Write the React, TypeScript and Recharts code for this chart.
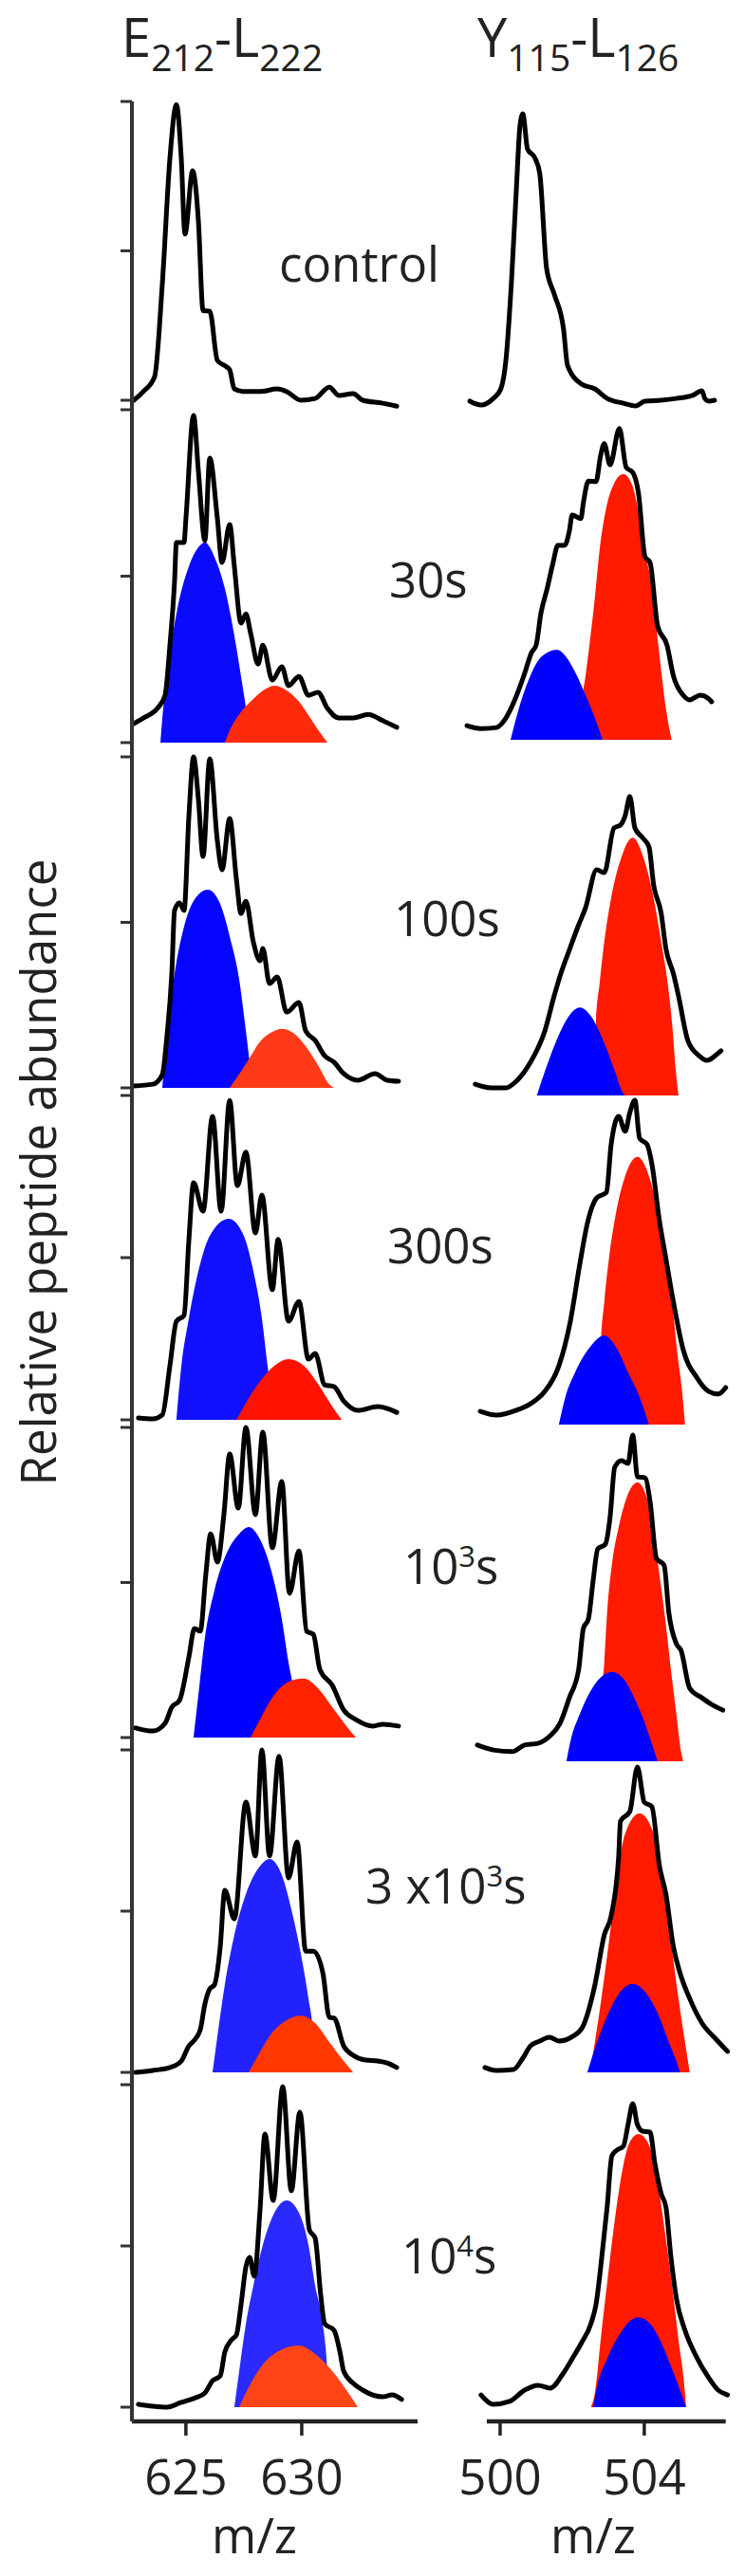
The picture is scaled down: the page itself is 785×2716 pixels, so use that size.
import React from 'react';
import { ComposedChart, Line, Area, XAxis, YAxis, ReferenceLine } from 'recharts';

type Pt = [number, number];

// ---------- E212-L222 (left column): m/z, relative abundance (%) ----------
const e212Control: Pt[] = [[622.75,0],[623.16,2.9],[623.65,7.9],[623.98,38.7],[624.31,81],[624.59,99],[624.8,81],[624.96,55.6],[625.29,76.8],[625.54,60],[625.74,30],[626.03,29.8],[626.36,13.3],[626.77,11.1],[626.89,10.2],[627.09,3.8],[627.5,2.9],[628.2,2.9],[628.94,3.8],[629.35,2.9],[629.96,0],[630.58,0.6],[631.19,4.4],[631.6,1.6],[632.22,2.2],[632.63,0],[633.49,-1],[634.1,-2]];

const e212T30: Pt[] = [[622.75,5.7],[623.16,7.4],[623.77,10.3],[624.1,14.2],[624.31,29.3],[624.51,48.4],[624.59,60.1],[624.92,60.1],[625.0,67.2],[625.33,98.3],[625.54,81.5],[625.82,60.7],[626.03,85.5],[626.36,67.2],[626.56,54.1],[626.89,65.5],[627.09,53],[627.38,35.9],[627.59,38.7],[627.79,33],[628.12,23.6],[628.32,29.3],[628.73,18.8],[629.14,22.8],[629.43,17.1],[629.88,19.9],[630.29,14.2],[630.7,15.1],[631.11,10.3],[631.6,7.4],[632.22,7.4],[632.87,8.5],[633.49,6.6],[634.1,4.6]];
const e212T30Blue: Pt[] = [[623.9,0],[623.94,3.7],[624.18,19.9],[624.59,38.7],[625.13,53],[625.54,58.7],[625.82,60.1],[626.23,55.8],[626.68,46.4],[627.09,32.2],[627.38,19.9],[627.67,6.6],[627.79,0]];
const e212T30Red: Pt[] = [[626.68,0],[626.89,3.7],[627.3,8.5],[627.91,13.1],[628.41,16],[628.82,17.1],[629.35,15.7],[629.88,12.3],[630.37,7.4],[630.78,3.1],[631.11,0]];

const e212T100: Pt[] = [[622.75,0.6],[623.57,1.1],[623.98,4],[624.18,15.5],[624.39,34.4],[624.51,53.6],[624.72,55.9],[624.92,53.6],[625.13,82.2],[625.33,100],[625.54,87.1],[625.74,69.9],[626.03,99.4],[626.36,74.5],[626.56,65.9],[626.89,81.4],[627.18,63],[627.38,52.7],[627.59,56.4],[627.91,44.1],[628.2,38.4],[628.32,42.1],[628.61,31.5],[628.94,33.5],[629.35,22.9],[629.88,25.8],[630.17,17.2],[630.58,14.3],[630.99,9.7],[631.4,7.7],[631.81,4.3],[632.42,2.3],[633.16,4.3],[633.69,2.3],[634.18,2]];
const e212T100Blue: Pt[] = [[623.98,0],[624.18,15.5],[624.51,34.4],[624.92,48.7],[625.41,57.3],[625.95,59.9],[626.48,55.6],[626.89,45.8],[627.3,32.7],[627.59,17.2],[627.79,5.7],[627.91,0]];
const e212T100Red: Pt[] = [[626.89,0],[627.18,2.9],[627.71,8.6],[628.2,14],[628.73,16.9],[629.14,17.8],[629.68,16.3],[630.17,12.6],[630.7,6.9],[631.19,1.1],[631.4,0]];

const e212T300: Pt[] = [[622.95,0.6],[623.57,0.3],[623.98,1.5],[624.31,16.7],[624.59,30.4],[624.92,32.2],[625.13,55.6],[625.33,73.1],[625.74,64.3],[626.15,93.6],[626.52,64.3],[626.89,98.5],[627.22,72.2],[627.59,82.5],[628.0,57.6],[628.28,69.3],[628.73,40.1],[628.98,55.6],[629.43,30.4],[629.88,36.5],[630.29,18.7],[630.58,20.5],[630.99,10.8],[631.4,10.2],[631.81,5.8],[632.42,2.9],[633.28,4.1],[634.1,2.3]];
const e212T300Blue: Pt[] = [[624.59,0],[624.8,16.4],[625.13,31.3],[625.54,45.9],[626.03,56.7],[626.85,62],[627.5,56.7],[627.91,45.9],[628.28,31.3],[628.53,16.4],[628.82,0]];
const e212T300Red: Pt[] = [[627.18,0],[627.5,4.1],[628.12,11.1],[628.82,16.7],[629.43,18.7],[630.09,16.7],[630.7,11.1],[631.32,4.1],[631.73,0]];

const e212T1e3: Pt[] = [[622.83,3.1],[623.57,2.1],[624.1,4.6],[624.39,9.8],[624.72,11.9],[625.13,26],[625.37,35.2],[625.62,34.3],[625.86,52.6],[626.07,65.7],[626.36,56.6],[626.64,71.9],[626.89,91.4],[627.26,74],[627.59,100],[628.0,71.9],[628.32,98.5],[628.73,61.2],[629.14,82.6],[629.47,46.5],[629.88,60.2],[630.21,34.3],[630.5,33.3],[630.78,22],[631.32,16.8],[631.81,8.9],[632.34,5.8],[633.08,3.7],[633.49,4.3],[634.18,3.7]];
const e212T1e3Blue: Pt[] = [[625.33,0],[625.54,13.8],[625.82,32.1],[626.23,47.4],[626.77,59.6],[627.3,65.7],[627.71,67.9],[628.2,63.9],[628.73,52.6],[629.14,38.2],[629.43,24.2],[629.68,13.8],[629.88,0]];
const e212T1e3Red: Pt[] = [[627.79,0],[628.2,5.8],[628.82,13.8],[629.43,18],[630.09,19],[630.7,15.9],[631.32,9.8],[631.93,3.7],[632.34,0]];

const e212T3e3: Pt[] = [[622.83,0],[623.57,0.6],[624.31,1.5],[624.8,3.5],[625.13,8.2],[625.33,9.7],[625.62,13.2],[625.82,21.2],[626.03,25.9],[626.23,27.1],[626.48,38.8],[626.68,56.5],[627.09,47.6],[627.59,83.8],[628.0,67.1],[628.28,100],[628.61,67.1],[629.02,98],[629.43,60.3],[629.8,71.5],[630.17,37.6],[630.5,37.6],[630.91,30.9],[631.19,17.1],[631.4,16.8],[631.81,8.2],[632.22,5.3],[632.75,3.8],[633.28,3.5],[633.69,2.9],[634.1,1.5]];
const e212T3e3Blue: Pt[] = [[626.15,0],[626.36,11.2],[626.68,27.1],[627.09,42.6],[627.59,55.3],[628.12,63.2],[628.61,66.2],[629.14,61.2],[629.55,50.6],[629.96,36.8],[630.29,22.9],[630.5,11.2],[630.58,0]];
const e212T3e3Red: Pt[] = [[627.71,0],[628.12,5.3],[628.73,12.4],[629.35,16.2],[629.96,17.6],[630.58,15.3],[631.19,9.4],[631.81,3.5],[632.22,0]];

const e212T1e4: Pt[] = [[622.95,0.9],[623.57,0.3],[624.18,0],[624.8,1.5],[625.41,2.9],[625.82,4.4],[626.15,8.2],[626.48,9.7],[626.68,17.1],[626.97,20.9],[627.18,22.4],[627.38,31.8],[627.59,43.5],[627.75,46.5],[627.95,40.6],[628.2,61.2],[628.41,84.7],[628.77,64.1],[629.18,99.4],[629.55,67.1],[629.92,91.5],[630.33,55],[630.58,52.4],[630.82,34.7],[630.99,25.9],[631.4,23.8],[631.65,17.1],[631.81,11.2],[632.22,7.4],[632.63,5.3],[633.49,3.2],[633.9,3.8],[634.31,2.4]];
const e212T1e4Blue: Pt[] = [[627.09,0],[627.3,11.2],[627.59,25.9],[627.91,37.6],[628.32,50.3],[628.82,60.3],[629.35,64.1],[629.88,60.3],[630.29,50.3],[630.58,37.6],[630.91,25.9],[631.11,11.2],[631.19,0]];
const e212T1e4Red: Pt[] = [[627.3,0],[627.71,6.2],[628.32,13.2],[629.14,17.9],[629.88,19.1],[630.58,16.5],[631.32,11.2],[631.93,5.3],[632.42,0]];

// ---------- Y115-L126 (right column) ----------
const y115Control: Pt[] = [[499.16,-0.3],[499.47,-1.6],[499.81,0.6],[500.02,3.8],[500.16,13.3],[500.31,38.7],[500.45,70.5],[500.55,91.7],[500.63,95.9],[500.76,84.1],[500.97,81],[501.1,75.9],[501.29,44.1],[501.5,35.6],[501.76,23.8],[501.87,11.7],[502.26,5.4],[502.63,3.8],[502.97,0.6],[503.42,-1],[503.76,-1.9],[504.02,-0.3],[504.47,0],[504.89,0.6],[505.34,1.6],[505.6,3.2],[505.68,0.6],[505.79,-0.3],[505.95,0]];

const y115T30: Pt[] = [[499.08,4.3],[499.47,3.4],[499.89,3.7],[500.16,6.6],[500.42,12.4],[500.68,20.1],[500.87,26.4],[501.0,28.7],[501.13,38.2],[501.31,46],[501.47,53.7],[501.6,58.9],[501.79,58.9],[501.92,63.2],[502.0,68.1],[502.24,67],[502.31,71.8],[502.45,78.4],[502.66,78.2],[502.79,86.2],[502.89,89.7],[503.05,83.3],[503.31,94.3],[503.5,82.5],[503.68,81],[503.84,74.7],[504.02,55.5],[504.16,53.7],[504.37,34.5],[504.63,28.7],[504.81,19.3],[505.08,13.5],[505.26,12.1],[505.55,13.5],[505.79,12.4],[505.87,11.5]];
const y115T30Blue: Pt[] = [[500.29,0],[500.52,9.5],[500.79,18.1],[501.05,23.9],[501.31,26.4],[501.58,27.3],[501.84,25],[502.1,20.1],[502.37,13.5],[502.63,6.6],[502.84,0]];
const y115T30Red: Pt[] = [[502.24,0],[502.26,9.5],[502.37,19.3],[502.5,30.7],[502.63,43.1],[502.76,57.5],[502.92,69],[503.16,77.6],[503.42,80.5],[503.68,76.7],[503.84,69],[504.02,57.5],[504.21,46],[504.34,33.6],[504.47,21],[504.6,9.5],[504.76,0]];

const y115T100: Pt[] = [[499.31,3.4],[499.76,2.3],[500.16,2.3],[500.45,4.3],[500.84,10],[501.24,19.5],[501.5,30.1],[501.68,36.7],[501.89,43],[502.16,51],[502.37,56.7],[502.68,68.2],[502.89,67.3],[503.16,80.8],[503.34,81.7],[503.47,84.5],[503.6,90.3],[503.74,80.8],[503.95,77.9],[504.13,75.1],[504.26,63.6],[504.47,55],[504.6,44.4],[504.81,36.7],[504.95,30.1],[505.21,16.6],[505.52,12],[505.74,10.6],[506.0,12.3],[506.13,13.5]];
const y115T100Blue: Pt[] = [[501.02,0],[501.24,7.2],[501.5,14.9],[501.81,22.3],[502.21,26.6],[502.55,23.5],[502.89,15.8],[503.16,8],[503.42,0.6],[503.47,0]];
const y115T100Red: Pt[] = [[502.6,0],[502.63,12.9],[502.66,22.3],[502.76,33.8],[502.89,46.4],[503.08,59.6],[503.34,71.1],[503.68,77.9],[504.0,71.1],[504.26,59.6],[504.47,46.4],[504.66,33],[504.79,19.5],[504.87,8],[504.95,0]];

const y115T300: Pt[] = [[499.45,4.1],[499.89,2.9],[500.45,4.4],[500.84,6.4],[501.24,10.2],[501.63,18.1],[501.95,31.9],[502.21,49.4],[502.42,62],[502.68,69.9],[502.95,71.6],[503.08,86.3],[503.29,95],[503.47,90.4],[503.6,96.2],[503.74,100],[503.87,88.3],[504.08,86.3],[504.21,80.4],[504.42,62.9],[504.6,51.2],[504.81,37.7],[505.08,23.1],[505.47,14.3],[505.79,10.2],[506.05,9.4],[506.26,11.4]];
const y115T300Blue: Pt[] = [[501.63,0],[501.81,8.5],[502.08,16.1],[502.5,24],[502.89,27.5],[503.21,24],[503.55,16.1],[503.87,8.5],[504.13,0]];
const y115T300Red: Pt[] = [[502.76,0],[502.79,23.1],[502.89,37.7],[503.02,51.2],[503.21,64.9],[503.47,76.6],[503.81,82.5],[504.13,76.6],[504.42,62.9],[504.6,49.4],[504.79,35.7],[504.92,21.9],[505.05,10.2],[505.13,0]];

const y115T1e3: Pt[] = [[499.37,4.9],[499.81,3.4],[500.34,2.9],[500.68,4.9],[501.05,5.4],[501.39,7.7],[501.66,11.4],[501.92,19.1],[502.18,27.7],[502.31,40],[502.45,42.9],[502.58,54.3],[502.71,64],[502.92,65.4],[503.05,73.4],[503.18,88.6],[503.37,90.6],[503.55,89.7],[503.68,98.3],[503.81,85.7],[504.02,85.4],[504.16,78.3],[504.34,61.1],[504.55,59.1],[504.68,44.9],[504.89,35.4],[505.02,33.4],[505.26,22],[505.6,19.1],[505.87,17.1],[506.18,15.4]];
const y115T1e3Blue: Pt[] = [[501.84,0],[501.97,6.9],[502.18,13.4],[502.45,20],[502.76,24.9],[503.1,26.9],[503.42,24.9],[503.68,20],[503.95,13.4],[504.16,6.9],[504.37,0]];
const y115T1e3Red: Pt[] = [[502.79,0],[502.81,16.3],[502.89,29.7],[502.97,44.9],[503.1,59.1],[503.29,70.6],[503.5,79.1],[503.81,84],[504.08,79.1],[504.24,69.7],[504.42,56.3],[504.6,41.1],[504.76,25.7],[504.89,14.3],[505.02,2.9],[505.08,0]];

const y115T3e3: Pt[] = [[499.58,1.5],[499.89,0.6],[500.37,0.9],[500.63,4.4],[500.84,8.2],[501.1,9.7],[501.37,10.9],[501.63,9.7],[502.02,11.2],[502.29,14.1],[502.63,27.1],[502.89,42.6],[503.08,48.5],[503.29,67.1],[503.34,77.9],[503.6,80.9],[503.81,94.7],[504.0,83.8],[504.21,82.4],[504.42,64.1],[504.6,55.3],[504.81,38.8],[504.99,30.9],[505.26,22.9],[505.6,15.3],[505.99,10.3],[506.31,6.5]];
const y115T3e3Blue: Pt[] = [[502.42,0],[502.63,7.4],[502.89,15.3],[503.21,22.9],[503.68,27.4],[504.08,24.1],[504.42,17.1],[504.68,9.4],[504.95,1.5],[504.99,0]];
const y115T3e3Red: Pt[] = [[502.5,0],[502.63,9.4],[502.81,22.9],[503.02,40.6],[503.21,57.4],[503.47,74.1],[503.87,80.3],[504.26,74.1],[504.55,57.4],[504.74,40.6],[504.95,22.9],[505.13,9.4],[505.26,0]];

const y115T1e4: Pt[] = [[499.47,3.8],[499.81,0.9],[500.26,1.8],[500.68,5.3],[501.05,6.8],[501.39,5.9],[501.74,10.3],[502.0,15],[502.26,20],[502.52,25.9],[502.66,31.8],[502.84,48.5],[502.97,62.1],[503.1,77.9],[503.24,79.7],[503.42,80.9],[503.55,87.6],[503.68,94.1],[503.81,87.6],[503.95,85.6],[504.16,85.3],[504.29,75.9],[504.47,66.2],[504.6,62.1],[504.74,46.5],[504.89,33.8],[505.13,23.8],[505.42,16.2],[505.79,9.1],[506.05,5.3],[506.31,3.8]];
const y115T1e4Blue: Pt[] = [[502.58,0],[502.71,7.4],[502.97,15],[503.29,22.1],[503.58,26.5],[503.84,27.9],[504.16,25.9],[504.47,20],[504.76,12.1],[505.02,4.4],[505.16,0]];
const y115T1e4Red: Pt[] = [[502.52,0],[502.63,4.4],[502.79,20.9],[502.97,38.5],[503.16,56.2],[503.37,72.1],[503.58,81.8],[503.84,84.7],[504.11,81.8],[504.34,72.1],[504.55,56.2],[504.76,38.5],[504.95,20.9],[505.13,4.4],[505.16,0]];

// ---------- labels & ticks ----------
const leftTicks = [625, 630];
const rightTicks = [500, 504];
const yTicks = [0, 50, 100];

const LEFT_DOMAIN: [number, number] = [622.67, 635.0];
const RIGHT_DOMAIN: [number, number] = [499.0, 506.4];
const RIGHT_AXIS_SPAN: [number, number] = [499.63, 506.26];
const Y_MIN = -4.4;

const FONT = '"Open Sans", "Noto Sans", sans-serif';
const INK = '#222';

const toRows = (pts: Pt[]) => pts.map(([mz, v]) => ({ mz, v }));

interface Frame { top: number; bottom: number; }

interface PanelProps {
  side: 'left' | 'right';
  frame: Frame;
  total: Pt[];
  blue?: Pt[];
  red?: Pt[];
  blueColor?: string;
  redColor?: string;
  bottomAxis?: boolean;
}

const EmptyTick = () => <g />;

function SpectrumPanel({ side, frame, total, blue, red, blueColor = '#0000ff', redColor = '#ff1a00', bottomAxis }: PanelProps) {
  const isLeft = side === 'left';
  const domain = isLeft ? LEFT_DOMAIN : RIGHT_DOMAIN;
  const plotLeft = isLeft ? 139 : 489;
  const plotWidth = isLeft ? 301 : 281;
  const yAxisW = isLeft ? 30 : 0;
  const h = frame.bottom - frame.top;
  const plotH = (h * (100 - Y_MIN)) / 100;
  const m = { top: 10, right: 12, bottom: 4, left: isLeft ? 0 : 12 };
  const xAxisH = bottomAxis ? 110 : 0;
  const width = m.left + yAxisW + plotWidth + m.right;
  const height = m.top + plotH + xAxisH + m.bottom;

  const blueArea = blue ? (
    <Area key="blue" data={toRows(blue)} dataKey="v" type="monotone" baseValue={0} stroke="none" fill={blueColor} fillOpacity={1} isAnimationActive={false} dot={false} activeDot={false} />
  ) : null;
  const redArea = red ? (
    <Area key="red" data={toRows(red)} dataKey="v" type="monotone" baseValue={0} stroke="none" fill={redColor} fillOpacity={1} isAnimationActive={false} dot={false} activeDot={false} />
  ) : null;
  const fills = isLeft ? [blueArea, redArea] : [redArea, blueArea];

  return (
    <div style={{ position: 'absolute', left: plotLeft - yAxisW - m.left, top: frame.top - m.top }}>
      <ComposedChart width={width} height={height} margin={m}>
        <XAxis
          dataKey="mz"
          type="number"
          domain={domain}
          allowDataOverflow={false}
          hide={!bottomAxis}
          ticks={isLeft ? leftTicks : rightTicks}
          height={xAxisH}
          tickSize={15}
          tickMargin={26}
          axisLine={isLeft ? { stroke: INK, strokeWidth: 4.5 } : false}
          tickLine={{ stroke: INK, strokeWidth: 3.5 }}
          tick={{ fontSize: 51, fill: INK, fontFamily: FONT }}
        />
        <YAxis
          type="number"
          domain={[Y_MIN, 100]}
          ticks={yTicks}
          hide={!isLeft}
          width={yAxisW}
          tickSize={12}
          tick={EmptyTick}
          axisLine={{ stroke: '#333', strokeWidth: 4 }}
          tickLine={{ stroke: '#333', strokeWidth: 3 }}
        />
        {fills}
        <Line data={toRows(total)} dataKey="v" type="monotone" stroke="#000" strokeWidth={5} strokeLinejoin="round" strokeLinecap="round" dot={false} activeDot={false} isAnimationActive={false} />
        {bottomAxis && !isLeft ? (
          <ReferenceLine
            segment={[{ x: RIGHT_AXIS_SPAN[0], y: Y_MIN }, { x: RIGHT_AXIS_SPAN[1], y: Y_MIN }]}
            stroke={INK}
            strokeWidth={4.5}
            ifOverflow="visible"
          />
        ) : null}
      </ComposedChart>
    </div>
  );
}

interface RowSpec {
  L: Frame; R: Frame;
  lt: Pt[]; lb?: Pt[]; lr?: Pt[];
  rt: Pt[]; rb?: Pt[]; rr?: Pt[];
  lBlue?: string; lRed?: string;
}

const rowsSpec: RowSpec[] = [
  { L: { top: 107, bottom: 422 }, R: { top: 107, bottom: 422 }, lt: e212Control, rt: y115Control },
  { L: { top: 432, bottom: 783 }, R: { top: 432, bottom: 780 }, lt: e212T30, lb: e212T30Blue, lr: e212T30Red, rt: y115T30, rb: y115T30Blue, rr: y115T30Red, lBlue: '#0a0aff', lRed: '#ff2a0c' },
  { L: { top: 798, bottom: 1147 }, R: { top: 806, bottom: 1155 }, lt: e212T100, lb: e212T100Blue, lr: e212T100Red, rt: y115T100, rb: y115T100Blue, rr: y115T100Red, lBlue: '#0505ff', lRed: '#ff3a18' },
  { L: { top: 1155, bottom: 1497 }, R: { top: 1160, bottom: 1502 }, lt: e212T300, lb: e212T300Blue, lr: e212T300Red, rt: y115T300, rb: y115T300Blue, rr: y115T300Red, lBlue: '#1010ff', lRed: '#ff1200' },
  { L: { top: 1505, bottom: 1832 }, R: { top: 1507, bottom: 1857 }, lt: e212T1e3, lb: e212T1e3Blue, lr: e212T1e3Red, rt: y115T1e3, rb: y115T1e3Blue, rr: y115T1e3Red, lBlue: '#0000ff', lRed: '#ff2200' },
  { L: { top: 1845, bottom: 2185 }, R: { top: 1845, bottom: 2185 }, lt: e212T3e3, lb: e212T3e3Blue, lr: e212T3e3Red, rt: y115T3e3, rb: y115T3e3Blue, rr: y115T3e3Red, lBlue: '#2222ff', lRed: '#ff3800' },
  { L: { top: 2198, bottom: 2538 }, R: { top: 2198, bottom: 2538 }, lt: e212T1e4, lb: e212T1e4Blue, lr: e212T1e4Red, rt: y115T1e4, rb: y115T1e4Blue, rr: y115T1e4Red, lBlue: '#2a2aff', lRed: '#ff4518' },
];

function Labels() {
  const base = { fontFamily: FONT, fill: INK };
  return (
    <svg width={785} height={2716} style={{ position: 'absolute', left: 0, top: 0, pointerEvents: 'none' }}>
      <text x={128} y={60} fontSize={56} {...base}>
        E<tspan fontSize={39} dy={15}>212</tspan><tspan fontSize={56} dy={-15}>-L</tspan><tspan fontSize={39} dy={15}>222</tspan>
      </text>
      <text x={503} y={60} fontSize={56} {...base}>
        Y<tspan fontSize={39} dy={15}>115</tspan><tspan fontSize={56} dy={-15}>-L</tspan><tspan fontSize={39} dy={15}>126</tspan>
      </text>
      <text x={294} y={297} fontSize={51} {...base}>control</text>
      <text x={410} y={630} fontSize={51} {...base}>30s</text>
      <text x={415} y={987} fontSize={51} {...base}>100s</text>
      <text x={408} y={1332} fontSize={51} {...base}>300s</text>
      <text x={425} y={1670} fontSize={51} {...base}>
        10<tspan fontSize={31} dy={-18}>3</tspan><tspan fontSize={51} dy={18}>s</tspan>
      </text>
      <text x={385} y={2007} fontSize={51} {...base}>
        3 x10<tspan fontSize={31} dy={-18}>3</tspan><tspan fontSize={51} dy={18}>s</tspan>
      </text>
      <text x={423} y={2397} fontSize={51} {...base}>
        10<tspan fontSize={31} dy={-18}>4</tspan><tspan fontSize={51} dy={18}>s</tspan>
      </text>
      <text x={59} y={1236} fontSize={51} textAnchor="middle" transform="rotate(-90 59 1236)" {...base}>
        Relative peptide abundance
      </text>
      <text x={268} y={2692} fontSize={51} textAnchor="middle" {...base}>m/z</text>
      <text x={625} y={2692} fontSize={51} textAnchor="middle" {...base}>m/z</text>
    </svg>
  );
}

export default function App() {
  const last = rowsSpec.length - 1;
  return (
    <div style={{ position: 'absolute', left: 0, top: 0, width: 785, height: 2716, background: '#fff', overflow: 'hidden' }}>
      {rowsSpec.map((r, i) => (
        <React.Fragment key={i}>
          <SpectrumPanel side="left" frame={r.L} total={r.lt} blue={r.lb} red={r.lr} blueColor={r.lBlue} redColor={r.lRed} bottomAxis={i === last} />
          <SpectrumPanel side="right" frame={r.R} total={r.rt} blue={r.rb} red={r.rr} bottomAxis={i === last} />
        </React.Fragment>
      ))}
      <Labels />
    </div>
  );
}
